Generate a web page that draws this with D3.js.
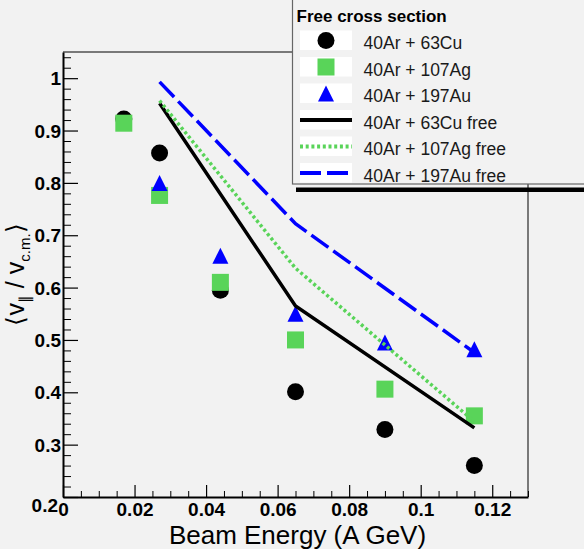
<!DOCTYPE html>
<html>
<head>
<meta charset="utf-8">
<script src="https://cdn.jsdelivr.net/npm/d3@7"></script>
<style>
  body { margin: 0; background: #f2f2f2; }
  svg { display: block; font-family: "Liberation Sans", Arial, sans-serif; }
</style>
</head>
<body>
<svg id="graph" width="584" height="549"></svg>
<script>
// data
var energies = [0.017, 0.027, 0.044, 0.065, 0.09, 0.115];
var cuVals = [0.922, 0.857, 0.595, 0.401, 0.329, 0.260];
var agVals = [0.914, 0.776, 0.610, 0.500, 0.406, 0.355];
var auEnergies = [0.027, 0.044, 0.065, 0.09, 0.115];
var auVals = [0.800, 0.661, 0.550, 0.495, 0.482];

var freeEnergies = [0.027, 0.065, 0.115];
var cuFree = [0.952, 0.565, 0.332];
var agFree = [0.957, 0.637, 0.344];
var auFree = [0.993, 0.722, 0.476];

var xTicks = [0, 0.02, 0.04, 0.06, 0.08, 0.1, 0.12];
var yTicks = [0.2, 0.3, 0.4, 0.5, 0.6, 0.7, 0.8, 0.9, 1];
var legendTitle = "Free cross section";
var legendLabels = ["40Ar + 63Cu", "40Ar + 107Ag", "40Ar + 197Au",
                    "40Ar + 63Cu free", "40Ar + 107Ag free", "40Ar + 197Au free"];

var green = "#59d459";
var blue = "#0000ff";

var svg = d3.select("svg");

var x = d3.scaleLinear().domain([0, 0.13]).range([63, 528]);
var y = d3.scaleLinear().domain([0.2, 1.05]).range([497, 52]);

function zip(xs, ys) { return xs.map(function(v, i) { return [v, ys[i]]; }); }
function fmt(d) { return String(+d.toFixed(2)); }

// frame top + right
svg.append("path")
    .attr("d", "M" + x(0) + "," + y(1.05) + "H" + x(0.13) + "V" + y(0.2))
    .attr("fill", "none")
    .attr("stroke", "black")
    .attr("stroke-width", 1);

// minor ticks
var xMinor = d3.range(0, 0.1301, 0.005).filter(function(v) { return Math.abs(v / 0.02 - Math.round(v / 0.02)) > 1e-6; });
var yMinor = d3.range(0.2, 1.0501, 0.02).filter(function(v) { return Math.abs(v / 0.1 - Math.round(v / 0.1)) > 1e-6; });

svg.append("g")
    .attr("transform", "translate(0," + y(0.2) + ")")
    .call(d3.axisBottom(x).tickValues(xMinor).tickSize(-6).tickFormat(""))
    .call(function(g) { g.select(".domain").remove(); });
svg.append("g")
    .attr("transform", "translate(" + x(0) + ",0)")
    .call(d3.axisLeft(y).tickValues(yMinor).tickSize(-8).tickFormat(""))
    .call(function(g) { g.select(".domain").remove(); });

// major axes
var xAxis = svg.append("g")
    .attr("transform", "translate(0," + y(0.2) + ")")
    .call(d3.axisBottom(x).tickValues(xTicks).tickSize(-12).tickSizeOuter(0).tickPadding(5.5).tickFormat(fmt));
var yAxis = svg.append("g")
    .attr("transform", "translate(" + x(0) + ",0)")
    .call(d3.axisLeft(y).tickValues(yTicks).tickSize(-15).tickSizeOuter(0).tickPadding(2).tickFormat(fmt));

[xAxis, yAxis].forEach(function(g) {
    g.select(".domain").attr("stroke-width", 2);
    g.selectAll(".tick line").attr("stroke-width", 1.2);
    g.selectAll("text")
        .attr("fill", "black")
        .style("font-size", "19px")
        .style("font-weight", "bold")
        .style("font-family", "'Liberation Sans', Arial, sans-serif");
});
yAxis.selectAll("text").attr("dy", "0.35em");
// lowest y label sits a bit lower, next to the x origin label
yAxis.selectAll(".tick").filter(function(d) { return d === 0.2; }).select("text")
    .attr("dy", "0.75em").attr("dx", -3);

// axis titles
svg.append("text")
    .attr("x", (x(0) + x(0.13)) / 2 + 2)
    .attr("y", 544)
    .attr("text-anchor", "middle")
    .style("font-size", "26px")
    .text("Beam Energy (A GeV)");

var yt = svg.append("text")
    .attr("transform", "translate(24," + ((y(0.2) + y(1.05)) / 2) + ") rotate(-90)")
    .attr("text-anchor", "middle")
    .style("font-size", "25px");
yt.append("tspan").text("\u27E8v");
yt.append("tspan").attr("dy", 6).style("font-size", "15px").text("\u2225");
yt.append("tspan").attr("dy", -6).text(" / v");
yt.append("tspan").attr("dy", 6).style("font-size", "15px").text("c.m.");
yt.append("tspan").attr("dy", -6).text("\u27E9");

// markers: circles, squares, triangles
svg.append("g").selectAll("circle")
    .data(zip(energies, cuVals))
    .enter()
    .append("circle")
    .attr("cx", function(d) { return x(d[0]); })
    .attr("cy", function(d) { return y(d[1]); })
    .attr("r", 8.5)
    .attr("fill", "black");

svg.append("g").selectAll("rect")
    .data(zip(energies, agVals))
    .enter()
    .append("rect")
    .attr("x", function(d) { return x(d[0]) - 8.5; })
    .attr("y", function(d) { return y(d[1]) - 8.5; })
    .attr("width", 17)
    .attr("height", 17)
    .attr("fill", green);

function triPath(cx, cy, s) {
    return "M" + (cx - s) + "," + (cy + s) + "L" + (cx + s) + "," + (cy + s) + "L" + cx + "," + (cy - s) + "Z";
}
svg.append("g").selectAll("path")
    .data(zip(auEnergies, auVals))
    .enter()
    .append("path")
    .attr("d", function(d) { return triPath(x(d[0]), y(d[1]), 8); })
    .attr("fill", blue);

// free cross section curves
var line = d3.line()
    .x(function(d) { return x(d[0]); })
    .y(function(d) { return y(d[1]); });

var curves = [
    { pts: zip(freeEnergies, cuFree), color: "black", dash: null },
    { pts: zip(freeEnergies, agFree), color: green, dash: "3,2.7" },
    { pts: zip(freeEnergies, auFree), color: blue, dash: "21,6" }
];
curves.forEach(function(c) {
    svg.append("path")
        .attr("d", line(c.pts))
        .attr("fill", "none")
        .attr("stroke", c.color)
        .attr("stroke-width", 3.5)
        .attr("stroke-dasharray", c.dash);
});

// legend
var lg = svg.append("g");
lg.append("rect")
    .attr("x", 296).attr("y", 187.5)
    .attr("width", 300).attr("height", 4.5)
    .attr("fill", "black");
lg.append("rect")
    .attr("x", 292.5).attr("y", -5)
    .attr("width", 310).attr("height", 189)
    .attr("fill", "#f2f2f2")
    .attr("stroke", "#666")
    .attr("stroke-width", 1.2);
lg.append("text")
    .attr("x", 296.5).attr("y", 22)
    .style("font-size", "17px")
    .style("font-weight", "bold")
    .text(legendTitle);

legendLabels.forEach(function(lab, i) {
    var base = 49.3 + i * 26.5;
    var cy = base - 8.8;
    var cx = 326;
    lg.append("rect")
        .attr("x", 300).attr("y", cy - 10)
        .attr("width", 52).attr("height", 19.5)
        .attr("fill", "white");
    if (i === 0) {
        lg.append("circle").attr("cx", cx).attr("cy", cy).attr("r", 8.5).attr("fill", "black");
    } else if (i === 1) {
        lg.append("rect").attr("x", cx - 8.5).attr("y", cy - 8.5).attr("width", 17).attr("height", 17).attr("fill", green);
    } else if (i === 2) {
        lg.append("path").attr("d", triPath(cx, cy, 8)).attr("fill", blue);
    } else {
        var c = curves[i - 3];
        lg.append("line")
            .attr("x1", 300).attr("x2", 352)
            .attr("y1", cy).attr("y2", cy)
            .attr("stroke", c.color)
            .attr("stroke-width", 4)
            .attr("stroke-dasharray", c.dash);
    }
    lg.append("text")
        .attr("x", 363.5).attr("y", base)
        .attr("fill", "#1a1a1a")
        .style("font-size", "17.5px")
        .text(lab);
});
</script>
</body>
</html>
